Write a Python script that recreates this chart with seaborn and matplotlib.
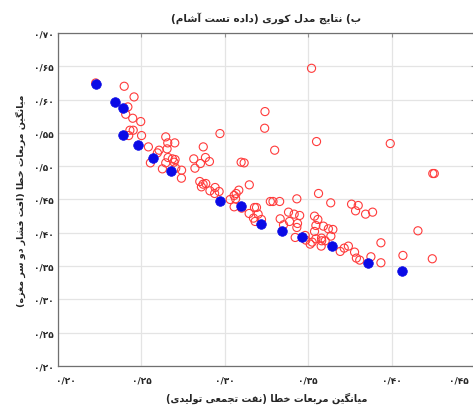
import numpy as np
import matplotlib
matplotlib.use("Agg")
import matplotlib.pyplot as plt
import matplotlib.transforms as mtransforms
import seaborn as sns

# blue = selected model results (filled), red = all runs (open circles)
blue_x = [0.223, 0.234, 0.239, 0.239, 0.248, 0.257, 0.268, 0.297, 0.310, 0.322, 0.334, 0.346, 0.364, 0.386, 0.406]
blue_y = [0.623, 0.596, 0.588, 0.547, 0.532, 0.512, 0.493, 0.447, 0.440, 0.413, 0.403, 0.393, 0.380, 0.354, 0.342]

red_x = [0.2397, 0.2456, 0.2419, 0.2406, 0.2448, 0.2496, 0.2431, 0.2451, 0.2424, 0.2501,
         0.2646, 0.2658, 0.2700, 0.2542, 0.2606, 0.2596, 0.2654, 0.2660, 0.2686, 0.2702,
         0.2696, 0.2554, 0.2646, 0.2626, 0.2706, 0.2741, 0.2740, 0.2814, 0.2871, 0.2884,
         0.2908, 0.2854, 0.2821, 0.2971, 0.2850, 0.2870, 0.2886, 0.2860, 0.2911, 0.2939,
         0.2942, 0.2966, 0.3032, 0.3056, 0.3084, 0.3068, 0.3065, 0.3056, 0.3101, 0.3146,
         0.3178, 0.3190, 0.3200, 0.3220, 0.3182, 0.3172, 0.3098, 0.3116, 0.3147, 0.3241,
         0.3239, 0.3299, 0.3273, 0.3289, 0.3329, 0.3432, 0.3562, 0.3635, 0.3760, 0.3800,
         0.3784, 0.3844, 0.3886, 0.3332, 0.3382, 0.3416, 0.3449, 0.3388, 0.3436, 0.3432,
         0.3352, 0.3538, 0.3558, 0.3546, 0.3538, 0.3591, 0.3621, 0.3648, 0.3580, 0.3636,
         0.3422, 0.3482, 0.3486, 0.3512, 0.3524, 0.3546, 0.3581, 0.3602, 0.3578, 0.3692,
         0.3716, 0.3741, 0.3778, 0.3789, 0.3809, 0.3876, 0.3936, 0.3936, 0.4068, 0.4158,
         0.4244, 0.3520, 0.3550, 0.3992, 0.4247, 0.4256, 0.2226]
red_y = [0.620, 0.604, 0.589, 0.578, 0.572, 0.567, 0.554, 0.554, 0.546, 0.546,
         0.544, 0.535, 0.535, 0.529, 0.524, 0.520, 0.526, 0.513, 0.511, 0.510,
         0.506, 0.505, 0.505, 0.496, 0.497, 0.494, 0.482, 0.511, 0.529, 0.513,
         0.507, 0.504, 0.497, 0.549, 0.477, 0.473, 0.474, 0.469, 0.463, 0.459,
         0.468, 0.462, 0.450, 0.456, 0.464, 0.459, 0.451, 0.439, 0.437, 0.429,
         0.438, 0.438, 0.428, 0.420, 0.417, 0.422, 0.506, 0.505, 0.472, 0.582,
         0.557, 0.524, 0.447, 0.447, 0.447, 0.451, 0.459, 0.445, 0.443, 0.441,
         0.433, 0.428, 0.431, 0.421, 0.431, 0.428, 0.426, 0.417, 0.414, 0.408,
         0.412, 0.425, 0.420, 0.411, 0.402, 0.410, 0.406, 0.405, 0.392, 0.395,
         0.393, 0.396, 0.389, 0.383, 0.386, 0.391, 0.388, 0.388, 0.380, 0.372,
         0.377, 0.380, 0.371, 0.362, 0.359, 0.364, 0.355, 0.385, 0.366, 0.403,
         0.361, 0.647, 0.537, 0.534, 0.489, 0.489, 0.625]

x_ticks = [0.20, 0.25, 0.30, 0.35, 0.40, 0.45]
y_ticks = [0.20, 0.25, 0.30, 0.35, 0.40, 0.45, 0.50, 0.55, 0.60, 0.65, 0.70]

title = "ب) نتایج مدل کوری (داده تست آشام)"
xlabel = "میانگین مربعات خطا (نفت تجمعی تولیدی)"
ylabel = "میانگین مربعات خطا (افت فشار دو سر مغزه)"

# matplotlib has no arabic shaping, so do it by hand with presentation forms
FORMS = {
    "ا": (0xFE8D, 0xFE8E, None, None), "آ": (0xFE81, 0xFE82, None, None),
    "د": (0xFEA9, 0xFEAA, None, None), "ر": (0xFEAD, 0xFEAE, None, None),
    "ز": (0xFEAF, 0xFEB0, None, None), "و": (0xFEED, 0xFEEE, None, None),
    "ب": (0xFE8F, 0xFE90, 0xFE91, 0xFE92), "ت": (0xFE95, 0xFE96, 0xFE97, 0xFE98),
    "ج": (0xFE9D, 0xFE9E, 0xFE9F, 0xFEA0), "خ": (0xFEA5, 0xFEA6, 0xFEA7, 0xFEA8),
    "س": (0xFEB1, 0xFEB2, 0xFEB3, 0xFEB4), "ش": (0xFEB5, 0xFEB6, 0xFEB7, 0xFEB8),
    "ط": (0xFEC1, 0xFEC2, 0xFEC3, 0xFEC4), "ع": (0xFEC9, 0xFECA, 0xFECB, 0xFECC),
    "غ": (0xFECD, 0xFECE, 0xFECF, 0xFED0), "ف": (0xFED1, 0xFED2, 0xFED3, 0xFED4),
    "ل": (0xFEDD, 0xFEDE, 0xFEDF, 0xFEE0), "م": (0xFEE1, 0xFEE2, 0xFEE3, 0xFEE4),
    "ن": (0xFEE5, 0xFEE6, 0xFEE7, 0xFEE8), "ه": (0xFEE9, 0xFEEA, 0xFEEB, 0xFEEC),
    "ی": (0xFBFC, 0xFBFD, 0xFBFE, 0xFBFF), "ک": (0xFB8E, 0xFB8F, 0xFB90, 0xFB91),
    "گ": (0xFB92, 0xFB93, 0xFB94, 0xFB95),
}

def rtl(text):
    out = []
    for i, ch in enumerate(text):
        if ch not in FORMS:
            out.append(ch)
            continue
        prev = text[i - 1] if i > 0 else ""
        nxt = text[i + 1] if i + 1 < len(text) else ""
        iso, fin, ini, med = FORMS[ch]
        jp = prev in FORMS and FORMS[prev][2] is not None
        jn = ini is not None and nxt in FORMS
        if jp and jn:
            out.append(chr(med))
        elif jp:
            out.append(chr(fin))
        elif jn:
            out.append(chr(ini))
        else:
            out.append(chr(iso))
    return "".join(out)[::-1].translate(str.maketrans("()", ")("))

def fa_num(v):
    s = f"{v:.2f}".replace(".", "/")
    return s.translate(str.maketrans("0123456789", "۰۱۲۳۴۵۶۷۸۹"))

sns.set_style("white")
plt.rcParams["font.family"] = ["DejaVu Sans"]

fig = plt.figure(figsize=(4.73, 4.10), dpi=100)
ax = fig.add_axes([0.1226, 0.1049, 0.8816, 0.8122])

sns.scatterplot(x=red_x, y=red_y, ax=ax, marker="o", s=34, facecolors="none",
                edgecolors="#ff3b3b", linewidth=0.8, zorder=3)
sns.scatterplot(x=blue_x, y=blue_y, ax=ax, marker="o", s=48, color="#0a0ae6",
                edgecolor="#0a0ae6", linewidth=0.5, zorder=4)

ax.set_xlim(0.20, 0.45)
ax.set_ylim(0.20, 0.70)
ax.set_xticks(x_ticks)
ax.set_yticks(y_ticks)
ax.set_xticklabels([fa_num(v) for v in x_ticks], fontsize=6.5, fontweight="bold")
ax.set_yticklabels([fa_num(v) for v in y_ticks], fontsize=6.5, fontweight="bold")
ax.grid(True, color="#e4e4e4", linewidth=0.9)
ax.tick_params(direction="in", length=3, color="#909090", top=True, right=True)
ax.tick_params(axis="x", pad=7)
ax.tick_params(axis="y", pad=3)
for sp in ax.spines.values():
    sp.set_color("#707070")
    sp.set_linewidth(0.9)

# outer x labels sit a bit inside, as in the original
xl = ax.get_xticklabels()
xl[0].set_transform(xl[0].get_transform() + mtransforms.ScaledTranslation(8 / 100, 0, fig.dpi_scale_trans))
xl[-1].set_transform(xl[-1].get_transform() + mtransforms.ScaledTranslation(-16 / 100, 0, fig.dpi_scale_trans))

ax.set_title(rtl(title), fontsize=7.5, fontweight="bold", pad=9)
ax.set_xlabel(rtl(xlabel), fontsize=7, fontweight="bold", labelpad=5)
ax.set_ylabel(rtl(ylabel), fontsize=6.8, fontweight="bold", labelpad=6)

fig.savefig("out.png", dpi=100)
